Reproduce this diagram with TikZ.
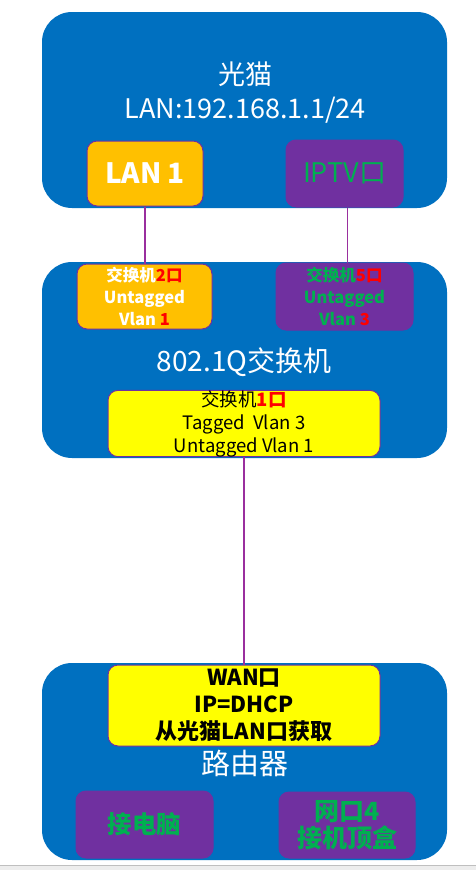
\documentclass[tikz,border=0pt]{standalone}
\usepackage{fontspec}
\setmainfont{Noto Sans CJK SC}
\definecolor{boxblue}{HTML}{0070C0}
\definecolor{lanorange}{HTML}{FFC000}
\definecolor{portpurple}{HTML}{7030A0}
\definecolor{txtgreen}{HTML}{00B050}
\definecolor{portyellow}{HTML}{FFFF00}
\definecolor{linkpurple}{HTML}{9A2F9E}

\begin{document}
\begin{tikzpicture}[x=1pt,y=-1pt,
    device/.style={fill=boxblue, rounded corners=30pt, minimum width=405pt, inner sep=0pt},
    port/.style={draw=portpurple, line width=1pt, rounded corners=10pt, inner sep=0pt, align=center},
    title/.style={text=white, align=center, font=\fontsize{27}{34}\selectfont},
    link/.style={draw=linkpurple, line width=1.6pt}]
    \useasboundingbox (0,0) rectangle (476,870);
    \fill[white] (0,0) rectangle (476,865);
    \fill[black!7] (0,865) rectangle (476,870);
    \draw[black!25, line width=1pt] (0,865) -- (476,865);
    \node [device, minimum height=196pt] (modem) at (244.5,110) {};
    \node [title] (modemtxt) at (245,93) {光猫\\LAN:192.168.1.1/24};
    \node [port, fill=lanorange, minimum width=116pt, minimum height=65pt,
      text=white, font=\fontsize{28}{30}\selectfont\bfseries] (lan1) at (145,173.5) {LAN 1};
    \node [port, fill=portpurple, minimum width=117pt, minimum height=67pt,
      text=txtgreen, font=\fontsize{27}{30}\selectfont] (iptv) at (344.5,173.5) {IPTV口};
    \node [device, minimum height=196pt] (switch) at (244.5,360) {};
    \node [title, font=\fontsize{28}{34}\selectfont] (switchtxt) at (244,362) {802.1Q交换机};
    \node [port, fill=lanorange, minimum width=135pt, minimum height=65pt,
      text=white, font=\fontsize{16.5}{22}\selectfont\bfseries] (sw2) at (144.5,296.5)
      {交换机\textcolor{red}{2口}\\Untagged\\Vlan \textcolor{red}{1}};
    \node [port, fill=portpurple, minimum width=137pt, minimum height=67pt,
      text=txtgreen, font=\fontsize{16.5}{22}\selectfont\bfseries] (sw5) at (344.5,296.5)
      {交换机\textcolor{red}{5口}\\Untagged\\Vlan \textcolor{red}{3}};
    \node [port, fill=portyellow, minimum width=272pt, minimum height=65pt,
      text=black, font=\fontsize{18.5}{23}\selectfont] (sw1) at (244,423.5)
      {交换机\textcolor{red}{\bfseries 1口}\\Tagged\ \ Vlan 3\\Untagged Vlan 1};
    \node [device, minimum height=197pt] (router) at (244.5,761.5) {};
    \node [title, font=\fontsize{29}{34}\selectfont] (routertxt) at (245,763) {路由器};
    \node [port, fill=portyellow, minimum width=272pt, minimum height=81pt,
      text=black, font=\fontsize{22}{27}\selectfont\bfseries] (wan) at (244,705.5)
      {WAN口\\IP=DHCP\\从光猫LAN口获取};
    \node [port, fill=portpurple, minimum width=137pt, minimum height=67pt,
      text=txtgreen, font=\fontsize{24.5}{28}\selectfont\bfseries] (pc) at (144.5,824.5) {接电脑};
    \node [port, fill=portpurple, minimum width=136pt, minimum height=66pt,
      text=txtgreen, font=\fontsize{25}{27}\selectfont\bfseries] (stb) at (347,825)
      {网口4\\接机顶盒};
    \draw[link] (lan1.south) -- (lan1.south |- sw2.north);
    \draw[link] ([xshift=3pt]iptv.south) -- ([xshift=3pt]iptv.south |- sw5.north);
    \draw[link] (sw1.south) -- (wan.north);
\end{tikzpicture}
\end{document}
